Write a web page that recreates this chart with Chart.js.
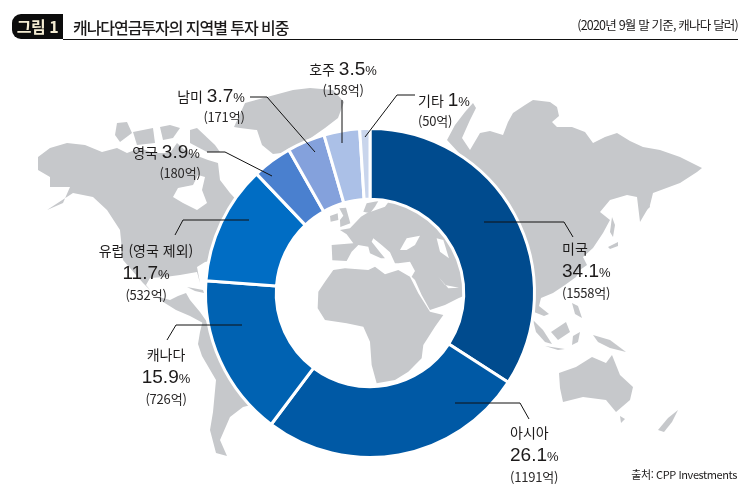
<!DOCTYPE html>
<html lang="ko">
<head>
<meta charset="utf-8">
<title>캐나다연금투자의 지역별 투자 비중</title>
<script src="https://cdn.jsdelivr.net/npm/chart.js@4"></script>
<style>
html, body { margin: 0; padding: 0; background: #fff; }
#stage { position: relative; width: 753px; height: 500px; overflow: hidden;
  font-family: "Noto Sans CJK KR", "Liberation Sans", sans-serif; color: #1c1a1a; }
#map, #myChart { position: absolute; left: 0; top: 0; }
#badge { position: absolute; left: 12px; top: 14px; width: 51px; height: 25px; background: #0c0c0c;
  border-radius: 9px 0 0 9px; color: #f4ecd2; font-size: 16px; font-weight: 700; line-height: 25px; text-align: center; letter-spacing: -0.5px; }
#rule { position: absolute; left: 63px; top: 39px; width: 675px; height: 1px; background: #111; }
#title { position: absolute; left: 73px; top: 15px; font-size: 16px; font-weight: 500; line-height: 24px; letter-spacing: -1.05px; white-space: nowrap; }
#note { position: absolute; right: 15px; top: 15px; font-size: 12.5px; line-height: 20px; letter-spacing: -0.8px; white-space: nowrap; }
#source { position: absolute; right: 16px; top: 465px; font-size: 11px; line-height: 18px; letter-spacing: -0.4px; white-space: nowrap; }
.row { position: absolute; white-space: nowrap; line-height: 20px; font-size: 14px; }
.num { font-family: "Liberation Sans", sans-serif; font-size: 19px; }
.pc { font-family: "Liberation Sans", sans-serif; font-size: 13px; }
.amt { font-size: 13px; letter-spacing: -0.2px; color: #2a2828; }
</style>
</head>
<body>
<div id="stage">
  <svg id="map" width="753" height="500" viewBox="0 0 753 500"></svg>
  <canvas id="myChart" width="753" height="500"></canvas>
  <div id="badge">그림 1</div>
  <div id="rule"></div>
  <div id="title">캐나다연금투자의 지역별 투자 비중</div>
  <div id="note">(2020년 9월 말 기준, 캐나다 달러)</div>
  <div id="source">출처: CPP Investments</div>
</div>
<script>
// chart data
const regions = ['미국', '아시아', '캐나다', '유럽 (영국 제외)', '영국', '남미', '호주', '기타'];
const shares = [34.1, 26.1, 15.9, 11.7, 3.9, 3.7, 3.5, 1];
const amounts = [1558, 1191, 726, 532, 180, 171, 158, 50];
const sliceColors = ['#004b8e', '#0059a5', '#0062b2', '#006dc4', '#4a80cf', '#84a1dc', '#abc0e7', '#c9d5ec'];

// label rows: [x, y of name, anchor, same line?, x of amount]
const labelPlaces = [
  [562, 248, 'left', false, 562],
  [510, 432, 'left', false, 510],
  [166, 354, 'center', false, 166],
  [146, 250, 'center', false, 146],
  [166, 152, 'center', true, 180],
  [211, 96, 'center', true, 224],
  [343, 69, 'center', true, 343],
  [418, 100, 'left', true, 418]
];
// leader lines, drawn in page pixels
const leaders = [
  [[484, 222], [564, 222], [573, 237]],
  [[455, 403], [520, 403], [529, 419]],
  [[242, 325], [176, 325], [167, 340]],
  [[249, 220], [183, 220], [175, 235]],
  [[272, 176], [225, 152], [207, 152]],
  [[315, 152], [267, 97], [250, 97]],
  [[342, 143], [342, 100]],
  [[365, 137], [397, 95], [415, 95]]
];

// backdrop world map outlines (decoration, not data)
const mapShapes = [
  // north + central america
  'M38 157 L50 148 L67 143 L85 145 L102 152 L117 148 L127 153 L140 148 L153 153 L170 153 L177 143 L187 152 L208 160 L218 163 L220 180 L230 193 L243 207 L270 200 L240 255 L205 262 L197 267 L200 283 L197 272 L180 275 L165 277 L150 278 L146 285 L155 296 L170 300 L178 296 L186 293 L190 300 L200 312 L207 322 L203 323 L190 316 L176 310 L160 300 L143 283 L123 260 L120 230 L107 210 L93 197 L73 193 L47 210 L63 203 L70 187 L50 187 L50 177 L38 170 Z',
  // arctic islands
  'M117 123 L127 122 L132 133 L120 142 L115 135 Z',
  'M133 132 L153 128 L155 143 L137 145 Z',
  'M160 127 L170 125 L180 128 L173 138 L163 140 Z',
  'M190 130 L197 128 L215 145 L220 152 L207 152 L190 143 Z',
  // greenland
  'M234 127 L245 103 L267 97 L293 90 L310 88 L333 90 L344 102 L338 118 L325 128 L305 142 L290 152 L273 154 L262 145 L257 130 L240 128 Z',
  // south america
  'M203 320 L212 326 L240 350 L290 370 L270 400 L243 407 L230 417 L220 440 L227 456 L216 453 L210 430 L213 412 L216 380 L202 356 L198 344 L200 332 Z',
  // cuba
  'M187 287 L203 290 L204 293 L195 291 Z',
  // eurasia east of the ring
  'M447 140 L455 125 L465 112 L473 103 L476 108 L470 120 L462 138 L470 150 L480 133 L490 131 L503 135 L508 122 L513 113 L525 105 L533 100 L550 102 L557 107 L559 116 L552 122 L557 127 L572 127 L585 132 L593 143 L605 137 L617 133 L630 141 L643 147 L660 150 L680 157 L702 168 L697 172 L680 183 L653 193 L650 205 L640 222 L637 197 L627 195 L610 200 L600 212 L610 220 L603 233 L593 248 L583 257 L587 265 L580 270 L576 277 L565 285 L553 293 L541 298 L539 306 L549 314 L544 316 L534 312 L520 300 L500 290 L500 200 L470 165 Z',
  // sea of japan islands
  'M612 217 L615 225 L613 237 L610 232 Z',
  'M608 247 L618 242 L618 246 L610 249 Z',
  'M639 200 L648 198 L650 207 L642 214 Z',
  // se asia islands
  'M533 320 L543 330 L552 344 L545 342 L536 332 Z',
  'M545 346 L565 349 L558 350 Z',
  'M551 332 L566 322 L570 332 L558 340 Z',
  'M573 336 L580 332 L578 342 L572 345 Z',
  'M572 303 L578 306 L582 318 L575 314 Z',
  'M593 335 L610 340 L626 352 L610 348 L598 342 Z',
  // australia, nz
  'M559 373 L576 367 L592 357 L606 363 L612 355 L620 375 L633 387 L630 400 L616 412 L606 400 L583 397 L563 402 L560 388 Z',
  'M620 416 L625 419 L621 423 Z',
  'M658 430 L668 418 L678 410 L672 422 L664 432 Z'
];
const hudsonBay = 'M173 197 L178 188 L193 185 L198 175 L205 177 L202 190 L207 203 L197 210 L183 203 Z';
// shapes seen through the ring, traced at 3x around (275, 195)
const holeShapes = [
  // africa
  'M128 340 L130 290 L150 260 L175 225 L210 220 L280 225 L300 215 L330 238 L370 225 L405 245 L430 295 L465 350 L505 360 L480 395 L445 450 L440 490 L400 530 L360 555 L305 565 L290 510 L285 440 L265 395 L215 385 L150 375 Z',
  // europe, turkey, arabia
  'M170 150 L235 145 L215 118 L195 105 L225 100 L258 65 L275 55 L330 35 L345 15 L420 30 L500 80 L560 150 L585 230 L585 295 L550 310 L510 330 L465 345 L440 300 L420 255 L410 245 L420 228 L405 200 L370 205 L360 205 L345 172 L320 150 L295 130 L290 140 L315 172 L330 190 L318 190 L285 175 L280 155 L250 150 L230 170 L215 198 L172 196 Z',
  // britain and ireland
  'M193 40 L213 38 L226 85 L196 96 L195 75 L205 62 Z',
  'M165 63 L188 55 L190 75 L167 80 Z',
  // scandinavia
  'M265 50 L275 25 L310 18 L300 35 L285 55 Z'
];
// water cut back out of the land
const waterShapes = [
  'M375 165 L395 130 L435 122 L420 150 L395 165 Z',
  'M485 130 L505 135 L522 190 L495 170 Z',
  'M490 245 L510 270 L552 278 L520 280 Z'
];

const svgNS = 'http://www.w3.org/2000/svg';
const mapLayer = document.getElementById('map');
function addShape(parent, d, fill) {
  const p = document.createElementNS(svgNS, 'path');
  p.setAttribute('d', d);
  p.setAttribute('fill', fill);
  parent.appendChild(p);
}
mapShapes.forEach(function (d) { addShape(mapLayer, d, '#c6c8cb'); });
addShape(mapLayer, hudsonBay, '#fff');
const holeGroup = document.createElementNS(svgNS, 'g');
holeGroup.setAttribute('transform', 'translate(275 195) scale(0.3333)');
mapLayer.appendChild(holeGroup);
holeShapes.forEach(function (d) { addShape(holeGroup, d, '#c6c8cb'); });
waterShapes.forEach(function (d) { addShape(holeGroup, d, '#fff'); });

const leaderLines = {
  id: 'leaderLines',
  afterDraw(chart) {
    const ctx = chart.ctx;
    ctx.save();
    ctx.strokeStyle = '#111';
    ctx.lineWidth = 1;
    leaders.forEach(function (pts) {
      ctx.beginPath();
      pts.forEach(function (pt, i) {
        if (i === 0) ctx.moveTo(pt[0], pt[1]); else ctx.lineTo(pt[0], pt[1]);
      });
      ctx.stroke();
    });
    ctx.restore();
  }
};

new Chart(document.getElementById('myChart'), {
  type: 'doughnut',
  data: {
    labels: regions,
    datasets: [{
      data: shares,
      backgroundColor: sliceColors,
      borderColor: '#fff',
      borderWidth: 3
    }]
  },
  options: {
    responsive: false,
    animation: false,
    cutout: '57%',
    layout: { padding: { left: 204, right: 217, top: 127, bottom: 41 } },
    plugins: { legend: { display: false }, tooltip: { enabled: false } }
  },
  plugins: [leaderLines]
});

// text labels
const stage = document.getElementById('stage');
function addRow(html, x, y, anchor) {
  const el = document.createElement('div');
  el.className = 'row';
  el.innerHTML = html;
  el.style.top = (y - 10) + 'px';
  el.style.left = x + 'px';
  if (anchor === 'center') el.style.transform = 'translateX(-50%)';
  stage.appendChild(el);
}
regions.forEach(function (name, i) {
  const place = labelPlaces[i];
  const x = place[0], y = place[1], anchor = place[2];
  const pct = '<span class="num">' + shares[i] + '</span><span class="pc">%</span>';
  const amt = '<span class="amt">(' + amounts[i] + '억)</span>';
  if (place[3]) {
    addRow(name + ' ' + pct, x, y, anchor);
    addRow(amt, place[4], y + 20, anchor);
  } else {
    addRow(name, x, y, anchor);
    addRow(pct, x, y + 23, anchor);
    addRow(amt, place[4], y + 44, anchor);
  }
});
</script>
</body>
</html>
